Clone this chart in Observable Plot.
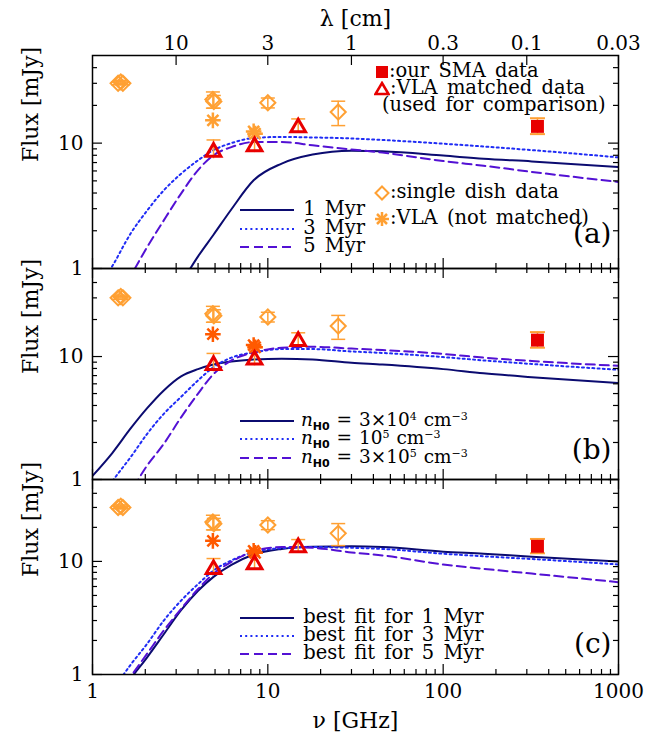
<!DOCTYPE html>
<html><head><meta charset="utf-8">
<script src="https://cdn.jsdelivr.net/npm/d3@7"></script>
<script src="https://cdn.jsdelivr.net/npm/@observablehq/plot@0.6"></script>
<style>
body{margin:0;background:#fff;}
#chart{position:relative;width:660px;height:743px;background:#fff;font-family:"DejaVu Serif",serif;overflow:hidden;}
.leg{position:absolute;font-size:19.5px;line-height:16px;height:16px;white-space:pre;color:#000;font-family:"DejaVu Serif",serif;word-spacing:3px;}
.leg.dens{font-size:18.5px;word-spacing:1px;}
.leg svg{vertical-align:middle;}
.leg sup{font-size:11px;vertical-align:6px;line-height:0;}
.leg .sub{font-family:"DejaVu Sans",sans-serif;font-weight:bold;font-size:11px;vertical-align:-4px;line-height:0;}
</style></head><body><div id="chart"></div>
<script>
// ---------- data ----------
const C = 29.9792458; // cm*GHz, for the wavelength axis
const nuGrid = [1, 1.3, 1.65, 2.05, 2.55, 3.2, 4, 4.9, 6.2, 8.3, 12, 18, 30, 45, 100, 170, 320, 1000];

// panel (a): ages
const a1Myr = [0.064, 0.11, 0.18, 0.29, 0.46, 0.76, 1.25, 1.86, 2.97, 5.05, 6.87, 8.1, 8.7, 8.6, 7.95, 7.5, 7.15, 6.45];
const a3Myr = [0.59, 1.05, 1.9, 2.9, 4.2, 5.7, 7.3, 8.8, 10.0, 11.0, 11.2, 11.1, 10.9, 10.6, 9.9, 9.4, 8.8, 7.7];
const a5Myr = [0.26, 0.48, 0.87, 1.48, 2.42, 3.96, 6.1, 8.0, 9.3, 10.2, 10.2, 9.6, 8.9, 8.4, 7.2, 6.6, 5.9, 4.9];
// panel (b): densities
const b3e4 = [1.07, 1.65, 2.6, 3.8, 5.3, 6.9, 7.9, 8.6, 9.1, 9.45, 9.6, 9.45, 8.9, 8.6, 7.9, 7.3, 6.8, 6.1];
const b1e5 = [0.55, 0.97, 1.52, 2.35, 3.42, 4.7, 6.4, 8.2, 9.8, 10.8, 11.5, 11.5, 11.0, 10.7, 9.9, 9.3, 8.7, 7.8];
const b3e5 = [0.3, 0.5, 0.8, 1.3, 1.95, 3.2, 5.0, 7.2, 9.3, 10.8, 11.8, 12.0, 11.6, 11.3, 10.5, 9.8, 9.2, 8.4];
// panel (c): best fits
const c1Myr = [0.3, 0.55, 0.92, 1.42, 2.27, 3.7, 5.5, 7.3, 9.3, 11.5, 12.9, 13.5, 13.6, 13.4, 12.2, 11.7, 11.0, 10.0];
const c3Myr = [0.42, 0.72, 1.22, 1.87, 3.0, 4.5, 6.3, 8.3, 10.2, 12.1, 13.1, 13.4, 13.2, 12.9, 11.7, 11.1, 10.5, 9.4];
const c5Myr = [0.33, 0.58, 0.96, 1.53, 2.45, 3.8, 5.7, 7.8, 9.9, 12.3, 13.4, 13.2, 12.0, 11.3, 9.4, 8.6, 7.8, 6.55];

// observed points
const sdNu   = [1.40, 1.45, 1.49, 4.86, 4.92, 10.0, 25.2];   // single dish (diamonds)
const sdFlux = [30.0, 30.8, 30.0, 22.3, 21.5, 21.0, 17.7];
const sdErr  = [0.8, 0.8, 0.8, 3.3, 2.5, 1.9, 3.9];
const vlaNu   = [4.86, 8.30, 8.46];                        // VLA not matched (asterisks)
const vlaFlux = [15.2, 12.4, 11.9];
const vlamNu   = [4.90, 8.40, 14.9];                       // VLA matched (triangles)
const vlamFlux = [8.5, 9.4, 13.3];
const vlamLo   = [7.5, 8.4, 12.0];
const vlamHi   = [10.6, 11.8, 15.6];
const smaNu = [345], smaFlux = [13.6], smaLo = [11.8], smaHi = [15.8]; // SMA (square)

// ticks and labels
const xMajor = [1, 10, 100, 1000];
const xMinor = [2,3,4,5,6,7,8,9,20,30,40,50,60,70,80,90,200,300,400,500,600,700,800,900];
const yMajor = [1, 10];
const yMinor = [2,3,4,5,6,7,8,9,20,30,40];
const lamTicks = [10, 3, 1, 0.3, 0.1, 0.03];
const ageLabels = ["1 Myr", "3 Myr", "5 Myr"];
const densLabels = ["3×10<sup>4</sup>", "10<sup>5</sup>", "3×10<sup>5</sup>"];
const fitLabels = ["best fit for 1 Myr", "best fit for 3 Myr", "best fit for 5 Myr"];

// ---------- styles ----------
const ORANGE = "#ffa033", RED = "#e80000", ASTER_BC = "#ff5a00";
const FS = 20, TFS = 22;
const curveStyle = [
  {stroke: "#0b0b70", dash: undefined},
  {stroke: "#1f2cf5", dash: "2,3.2"},
  {stroke: "#5311d4", dash: "9,5"}
];
const asterisk8 = {draw(ctx, size){ const r = Math.sqrt(size/Math.PI), d = r*Math.SQRT1_2;
  ctx.moveTo(0,-r); ctx.lineTo(0,r); ctx.moveTo(-r,0); ctx.lineTo(r,0);
  ctx.moveTo(-d,-d); ctx.lineTo(d,d); ctx.moveTo(-d,d); ctx.lineTo(d,-d);}};
const capSym = {draw(ctx, size){ const r = Math.sqrt(size/Math.PI); ctx.moveTo(-r,0); ctx.lineTo(r,0);}};

const sdRows = sdNu.map((n,i)=>({n, f: sdFlux[i], lo: sdFlux[i]-sdErr[i], hi: sdFlux[i]+sdErr[i]}));
const vlaRows = vlaNu.map((n,i)=>({n, f: vlaFlux[i]}));
const vlamRows = vlamNu.map((n,i)=>({n, f: vlamFlux[i], lo: vlamLo[i], hi: vlamHi[i]}));
const smaRows = smaNu.map((n,i)=>({n, f: smaFlux[i], lo: smaLo[i], hi: smaHi[i]}));
const caps = rows => rows.flatMap(r => [{n: r.n, f: r.lo}, {n: r.n, f: r.hi}]);

const W = 660, ML = 92, MR = 42, innerW = W - ML - MR;
const chart = document.getElementById("chart");

function makePanel(p){
  const innerH = p.height - p.mt - p.mb;
  const marks = [];
  p.curves.forEach((vals, i) => marks.push(Plot.line(nuGrid.map((n,j)=>({n, f: vals[j]})),
    {x: "n", y: "f", stroke: curveStyle[i].stroke, strokeWidth: 2, strokeDasharray: curveStyle[i].dash, curve: "monotone-x", clip: true})));
  // inward ticks
  const tk = {stroke: "black", strokeWidth: 1.2};
  marks.push(Plot.tickX(xMajor, {x: d=>d, insetTop: innerH-10, ...tk}));
  marks.push(Plot.tickX(xMinor, {x: d=>d, insetTop: innerH-5, ...tk}));
  if (p.topLambda) {
    marks.push(Plot.tickX(lamTicks, {x: l=>C/l, insetBottom: innerH-10, ...tk}));
    marks.push(Plot.text(lamTicks, {x: l=>C/l, text: l=>String(l), frameAnchor: "top", lineAnchor: "bottom", dy: -6, fontSize: FS}));
    marks.push(Plot.text(["λ [cm]"], {text: d=>d, frameAnchor: "top", lineAnchor: "bottom", dy: -30, fontSize: TFS}));
  } else {
    marks.push(Plot.tickX(xMajor, {x: d=>d, insetBottom: innerH-10, ...tk}));
    marks.push(Plot.tickX(xMinor, {x: d=>d, insetBottom: innerH-5, ...tk}));
  }
  marks.push(Plot.tickY(yMajor, {y: d=>d, insetRight: innerW-10, ...tk}));
  marks.push(Plot.tickY(yMinor, {y: d=>d, insetRight: innerW-5, ...tk}));
  marks.push(Plot.tickY(yMajor, {y: d=>d, insetLeft: innerW-10, ...tk}));
  marks.push(Plot.tickY(yMinor, {y: d=>d, insetLeft: innerW-5, ...tk}));
  marks.push(Plot.frame({stroke: "black", strokeWidth: 1.5}));
  // y tick labels and title
  marks.push(Plot.text(yMajor, {y: d=>d, text: d=>String(d), frameAnchor: "left", textAnchor: "end", dx: -9, fontSize: FS}));
  marks.push(Plot.text(["Flux [mJy]"], {text: d=>d, frameAnchor: "left", rotate: -90, dx: -62, fontSize: TFS}));
  if (p.bottomAxis) {
    marks.push(Plot.text(xMajor, {x: d=>d, text: d=>String(d), frameAnchor: "bottom", dy: 23, fontSize: FS}));
    marks.push(Plot.text(["ν [GHz]"], {text: d=>d, frameAnchor: "bottom", dy: 53, fontSize: TFS}));
  }
  // data points
  marks.push(Plot.ruleX(sdRows, {x: "n", y1: "lo", y2: "hi", stroke: ORANGE, strokeWidth: 1.5}));
  marks.push(Plot.dot(caps(sdRows), {x: "n", y: "f", symbol: capSym, r: 7, stroke: ORANGE, strokeWidth: 1.5}));
  marks.push(Plot.dot(sdRows, {x: "n", y: "f", symbol: "diamond2", r: 6.8, stroke: ORANGE, strokeWidth: 2, fill: "none"}));
  marks.push(Plot.ruleX(vlamRows, {x: "n", y1: "lo", y2: "hi", stroke: ORANGE, strokeWidth: 1.5}));
  marks.push(Plot.dot(vlamRows.map(r=>({n: r.n, f: r.hi})), {x: "n", y: "f", symbol: capSym, r: 7, stroke: ORANGE, strokeWidth: 1.5}));
  marks.push(Plot.dot(vlaRows, {x: "n", y: "f", symbol: asterisk8, r: 7.8, stroke: p.asterColor, strokeWidth: 2.5}));
  marks.push(Plot.dot(vlamRows, {x: "n", y: "f", symbol: "triangle2", r: 7, stroke: RED, strokeWidth: 3, fill: "none"}));
  marks.push(Plot.ruleX(smaRows, {x: "n", y1: "lo", y2: "hi", stroke: ORANGE, strokeWidth: 1.5}));
  marks.push(Plot.dot(caps(smaRows), {x: "n", y: "f", symbol: capSym, r: 7.5, stroke: ORANGE, strokeWidth: 2}));
  marks.push(Plot.dot(smaRows, {x: "n", y: "f", symbol: "square", r: 7.3, fill: RED, stroke: "none"}));
  marks.push(Plot.text([p.tag], {text: d=>d, frameAnchor: "bottom-right", dx: -7, dy: -p.tagDy, fontSize: 28, textAnchor: "end"}));

  const svg = Plot.plot({
    width: W, height: p.height, marginLeft: ML, marginRight: MR, marginTop: p.mt, marginBottom: p.mb,
    x: {type: "log", domain: [1, 1000], axis: null},
    y: {type: "log", domain: p.yDomain, axis: null},
    style: {fontFamily: "DejaVu Serif, serif", fontSize: FS + "px", background: "transparent", overflow: "visible", color: "black"},
    marks
  });
  svg.style.position = "absolute";
  svg.style.left = "0px";
  svg.style.top = p.top + "px";
  chart.appendChild(svg);
}

makePanel({top: 0, height: 270, mt: 55, mb: 2, yDomain: [1, 50], curves: [a1Myr, a3Myr, a5Myr], topLambda: true, asterColor: ORANGE, tag: "(a)", tagDy: 26});
makePanel({top: 266, height: 215, mt: 2, mb: 2, yDomain: [1, 52], curves: [b3e4, b1e5, b3e5], asterColor: ASTER_BC, tag: "(b)", tagDy: 21});
makePanel({top: 477, height: 266, mt: 2, mb: 69, yDomain: [1, 53], curves: [c1Myr, c3Myr, c5Myr], bottomAxis: true, asterColor: ASTER_BC, tag: "(c)", tagDy: 22});

// ---------- legends ----------
function addRow(x, y, html, cls){ const d = document.createElement("div"); d.className = "leg" + (cls ? " " + cls : ""); d.style.left = x + "px"; d.style.top = (y - 8) + "px"; d.innerHTML = html; chart.appendChild(d); }
function swatch(i){ const s = curveStyle[i];
  return `<svg width="54" height="8"><line x1="0" x2="54" y1="4" y2="4" stroke="${s.stroke}" stroke-width="2"${s.dash ? ` stroke-dasharray="${s.dash}"` : ""}/></svg>`; }
ageLabels.forEach((t,i)=>addRow(240, [209,228,246][i], swatch(i) + " " + t));
densLabels.forEach((t,i)=>addRow(240, [420,438,457][i], swatch(i) + ` <i>n</i><span class="sub">H0</span> = ${t} cm<sup>−3</sup>`, "dens"));
fitLabels.forEach((t,i)=>addRow(240, [617,635,653][i], swatch(i) + " " + t));

const symSq = `<svg width="14" height="14"><rect x="1" y="1" width="12" height="12" fill="${RED}"/></svg>`;
const symTri = `<svg width="16" height="15"><polygon points="8,2 14.5,13 1.5,13" fill="none" stroke="${RED}" stroke-width="2.5"/></svg>`;
const symDia = `<svg width="16" height="16"><polygon points="8,1.5 14.5,8 8,14.5 1.5,8" fill="none" stroke="${ORANGE}" stroke-width="2"/></svg>`;
const symAst = `<svg width="16" height="16"><g stroke="${ORANGE}" stroke-width="2.5"><line x1="8" y1="1" x2="8" y2="15"/><line x1="1" y1="8" x2="15" y2="8"/><line x1="3" y1="3" x2="13" y2="13"/><line x1="3" y1="13" x2="13" y2="3"/></g></svg>`;
addRow(375, 71, symSq + ":our SMA data");
addRow(374, 88, symTri + ":VLA matched data");
addRow(382, 105, "(used for comparison)");
addRow(374, 192, symDia + ":single dish data");
addRow(374, 218, symAst + ":VLA (not matched)");
</script></body></html>
